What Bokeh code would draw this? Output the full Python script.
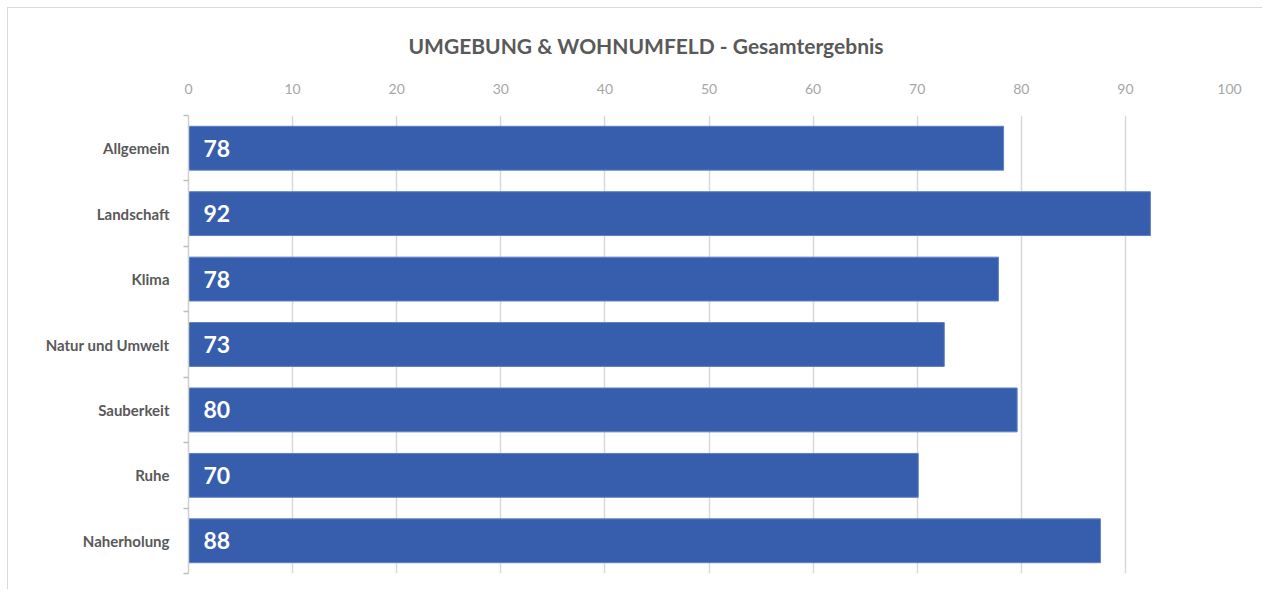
from bokeh.plotting import figure
from bokeh.models import ColumnDataSource, FixedTicker, Range1d, Title
from bokeh.core.properties import value
from bokeh.embed import file_html
from bokeh.resources import INLINE

title_text = "UMGEBUNG & WOHNUMFELD - Gesamtergebnis"
categories = ["Allgemein", "Landschaft", "Klima", "Natur und Umwelt", "Sauberkeit", "Ruhe", "Naherholung"]
scores = [78.3, 92.4, 77.8, 72.6, 79.6, 70.1, 87.6]
x_ticks = [0, 10, 20, 30, 40, 50, 60, 70, 80, 90, 100]

n = len(categories)
ypos = [n - 1 - i for i in range(n)]
labels = [str(int(round(v))) for v in scores]

src = ColumnDataSource(dict(y=ypos, score=scores, label=labels, cat=categories))

FONT = "Lato"
p = figure(width=1255, height=582, output_backend="svg", toolbar_location=None,
           x_range=Range1d(0, 100), y_range=Range1d(-0.5, n - 0.5),
           x_axis_location="above", min_border_left=180, min_border_top=107,
           min_border_bottom=17, min_border_right=34)
p.styles = {"border-left": "1px solid #d9d9d9", "border-top": "1px solid #d9d9d9",
            "margin-left": "7px", "margin-top": "7px"}
p.outline_line_color = None
p.background_fill_color = "white"
p.border_fill_color = "white"

p.hbar(y="y", right="score", left=0, height=0.67, source=src,
       fill_color="#375DAD", line_color="#5f7fc4", line_width=1)
p.text(x=0, y="y", text="label", source=src, x_offset=15,
       text_color="white", text_font=value(FONT), text_font_style="bold",
       text_font_size="23px", text_baseline="middle", text_align="left")

# x axis (top)
xa = p.xaxis[0]
xa.ticker = FixedTicker(ticks=x_ticks)
xa.axis_line_color = None
xa.major_tick_line_color = None
xa.minor_tick_line_color = None
xa.major_label_text_color = "#a6a6a6"
xa.major_label_text_font = FONT
xa.major_label_text_font_size = "14px"
xa.major_label_standoff = 16

# y axis (categories)
ya = p.yaxis[0]
ya.ticker = FixedTicker(ticks=ypos, minor_ticks=[k - 0.5 for k in range(n + 1)])
ya.major_label_overrides = {yy: c for yy, c in zip(ypos, categories)}
ya.axis_line_color = "#d0d0d0"
ya.axis_line_width = 1.5
ya.major_tick_line_color = None
ya.minor_tick_line_color = "#bfbfbf"
ya.minor_tick_line_width = 1.5
ya.minor_tick_out = 5
ya.minor_tick_in = 0
ya.major_label_text_color = "#595959"
ya.major_label_text_font = FONT
ya.major_label_text_font_style = "bold"
ya.major_label_text_font_size = "15px"
ya.major_label_standoff = 13

p.xgrid.ticker = FixedTicker(ticks=x_ticks)
p.xgrid.grid_line_color = "#d9d9d9"
p.xgrid.grid_line_width = 1.5
p.ygrid.grid_line_color = None

p.add_layout(Title(text=title_text, align="left", offset=220, text_font=FONT,
                   text_font_style="bold", text_font_size="21px",
                   text_color="#595959", standoff=45), "above")

open("out.html", "w").write(file_html(p, INLINE))
